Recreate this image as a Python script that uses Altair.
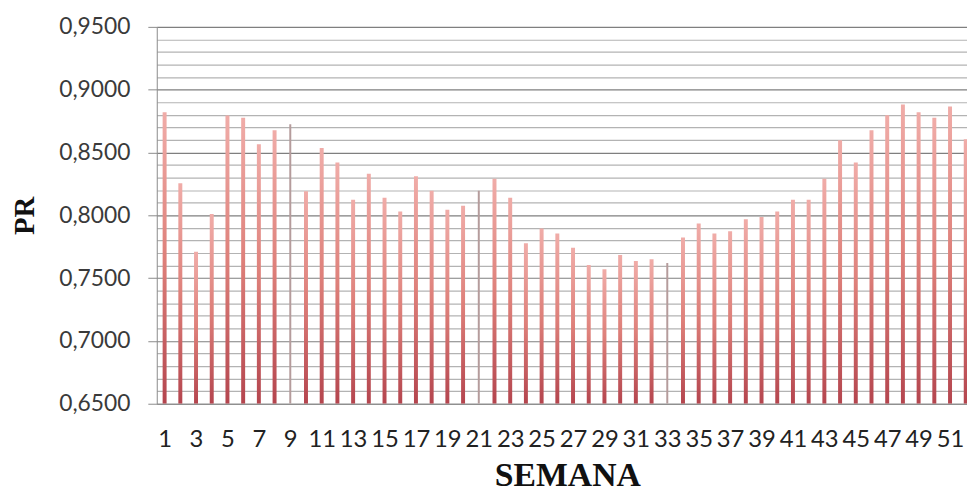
import altair as alt
import pandas as pd

weeks = list(range(1, 53))
pr = [0.882, 0.8255, 0.771, 0.801, 0.8795, 0.8776, 0.8566, 0.8677, 0.8724, 0.8192,
      0.8535, 0.842, 0.8124, 0.833, 0.814, 0.803, 0.831, 0.8195, 0.8045, 0.8077,
      0.8195, 0.829, 0.814, 0.7777, 0.7895, 0.7856, 0.7742, 0.7605, 0.757, 0.7684,
      0.7637, 0.765, 0.762, 0.7824, 0.7934, 0.7856, 0.7874, 0.7968, 0.7987, 0.803,
      0.8124, 0.8124, 0.829, 0.8598, 0.842, 0.8677, 0.8797, 0.8882, 0.882, 0.8776,
      0.8866, 0.8605]
x_tick_labels = list(range(1, 52, 2))
y_ticks = [round(0.65 + 0.01 * i, 2) for i in range(31)]
thin_weeks = [9, 21, 33]

df = pd.DataFrame({"semana": weeks, "pr": pr})

major = "round(datum.value*100) % 5 == 0"

grad = alt.Gradient(
    gradient="linear",
    stops=[
        alt.GradientStop(color="#f0aca8", offset=0),
        alt.GradientStop(color="#de807a", offset=0.5),
        alt.GradientStop(color="#b4454e", offset=1),
    ],
    x1=0, x2=0, y1=0, y2=1,
)

x = alt.X(
    "semana:Q",
    scale=alt.Scale(domain=[0.5, 52.08], nice=False, zero=False, padding=0),
    axis=alt.Axis(
        values=x_tick_labels, format="d", title="SEMANA", grid=False,
        ticks=False, tickSize=0, labelPadding=43, labelBaseline="alphabetic",
        labelFont="Lato", labelFontSize=24, labelColor="#222222",
        labelOverlap=False, labelFlush=False,
        domainColor="#8a8a8a", domainWidth=1,
        titleFont="Liberation Serif", titleFontSize=34, titleFontWeight="bold",
        titleColor="#111111", titleX=414, titleY=82, titleAnchor="start",
        titleAlign="center", titleBaseline="alphabetic",
    ),
)
y = alt.Y(
    "pr:Q",
    scale=alt.Scale(domain=[0.65, 0.95], nice=False, zero=False),
    axis=alt.Axis(
        values=y_ticks, title="PR",
        labelExpr="round(datum.value*100) % 5 == 0 ? replace(format(datum.value, '.4f'), '.', ',') : ''",
        labelFont="Lato", labelFontSize=23, labelColor="#3a3a3a",
        labelPadding=18, tickSize=9, tickColor="#8a8a8a",
        tickOpacity={"condition": {"test": major, "value": 1}, "value": 0},
        grid=True,
        gridColor={"condition": {"test": major, "value": "#7f7f7f"}, "value": "#b3b3b3"},
        gridWidth=1.2,
        domainColor="#8a8a8a", domainWidth=1,
        titleFont="Liberation Serif", titleFontSize=29, titleFontWeight="bold",
        titleColor="#111111", titleAngle=270, titleX=-124, titleY=190,
        titleAlign="center", titleBaseline="alphabetic",
    ),
)

base = alt.Chart(df).encode(x=x, y=y, y2=alt.datum(0.65))
bars = base.transform_filter("indexof([9, 21, 33], datum.semana) < 0").mark_bar(
    size=4, color=grad, clip=True
)
thin = base.transform_filter("indexof([9, 21, 33], datum.semana) >= 0").mark_bar(
    size=2, color="#b59c9c", clip=True
)

chart = (
    alt.layer(bars, thin)
    .properties(
        width=817, height=380,
        autosize=alt.AutoSizeParams(type="none"),
        padding={"left": 150, "top": 17, "right": 0, "bottom": 90},
        background="white",
    )
    .configure_view(stroke=None)
)

chart.save("out.html", embed_options={"renderer": "svg", "actions": False})
